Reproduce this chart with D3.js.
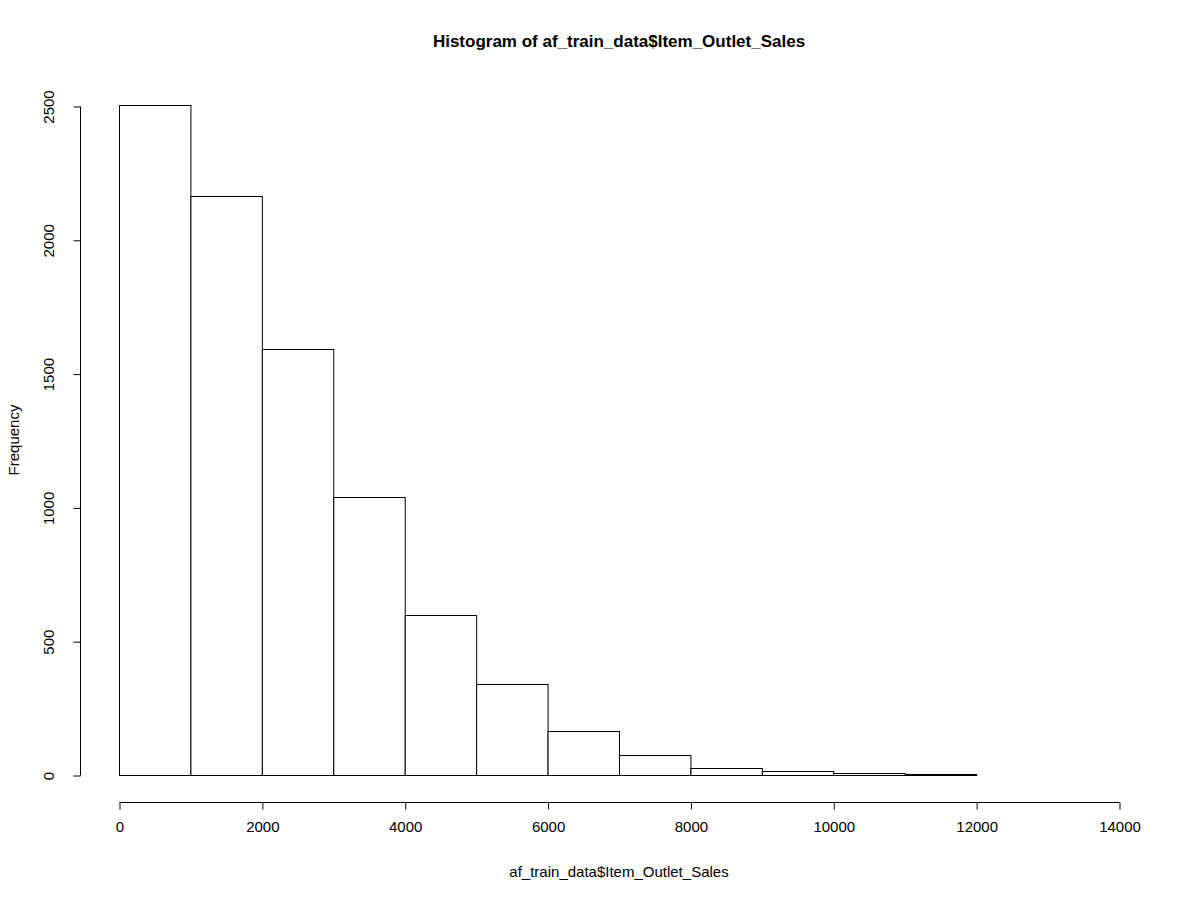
<!DOCTYPE html>
<html><head><meta charset="utf-8">
<script src="https://cdn.jsdelivr.net/npm/d3@7"></script>
<style>body{margin:0;background:#fff}text{font-family:"Liberation Sans",Arial,sans-serif}</style>
</head><body>
<script>
// histogram bins (lower edges) and counts
const binStarts = [0,1000,2000,3000,4000,5000,6000,7000,8000,9000,10000,11000,12000,13000];
const binWidth = 1000;
const counts = [2503,2162,1592,1039,598,340,164,75,26,15,7,2,1,1];
const xTicks = [0,2000,4000,6000,8000,10000,12000,14000];
const yTicks = [0,500,1000,1500,2000,2500];

const W = 1200, H = 900;
const svg = d3.select('body').append('svg').attr('width', W).attr('height', H);

const x = d3.scaleLinear().domain([0, 14000]).range([119, 1119]);
const y = d3.scaleLinear().domain([0, 2500]).range([775, 106]);

svg.selectAll('rect.bar')
    .data(binStarts)
    .enter()
    .append('rect')
    .attr('x', (d) => x(d) + 0.5)
    .attr('width', x(binWidth) - x(0))
    .attr('y', (d, i) => Math.round(y(counts[i])) + 0.5)
    .attr('height', (d, i) => Math.round(y(0)) - Math.round(y(counts[i])))
    .attr('fill', 'white')
    .attr('stroke', 'black');

// x axis
const xa = svg.append('g').attr('transform', 'translate(0.5,802.5)')
    .call(d3.axisBottom(x).tickValues(xTicks).tickSize(7).tickPadding(12).tickFormat(d3.format('d')));
xa.selectAll('text').attr('font-size', 15).attr('fill', '#000');
xa.selectAll('line,path').attr('stroke', '#000');
xa.select('path').attr('d', `M${x(0)},0H${x(14000)}`);

// y axis
const ya = svg.append('g').attr('transform', 'translate(80.5,0.5)')
    .call(d3.axisLeft(y).tickValues(yTicks).tickSize(7).tickFormat(d3.format('d')));
ya.selectAll('line,path').attr('stroke', '#000');
ya.select('path').attr('d', `M0,${y(0)}V${y(2500)}`);
ya.selectAll('text')
    .attr('font-size', 15).attr('fill', '#000')
    .attr('text-anchor', 'middle')
    .attr('x', 0).attr('dy', 0)
    .attr('transform', 'translate(-27,0) rotate(-90)');

svg.append('text').attr('x', 619).attr('y', 47).attr('text-anchor', 'middle')
    .attr('font-size', 17).attr('font-weight', 'bold').text('Histogram of af_train_data$Item_Outlet_Sales');
svg.append('text').attr('x', 619).attr('y', 877).attr('text-anchor', 'middle')
    .attr('font-size', 15).text('af_train_data$Item_Outlet_Sales');
svg.append('text').attr('transform', 'translate(19,440) rotate(-90)').attr('text-anchor', 'middle')
    .attr('font-size', 15).text('Frequency');
</script>
</body></html>
